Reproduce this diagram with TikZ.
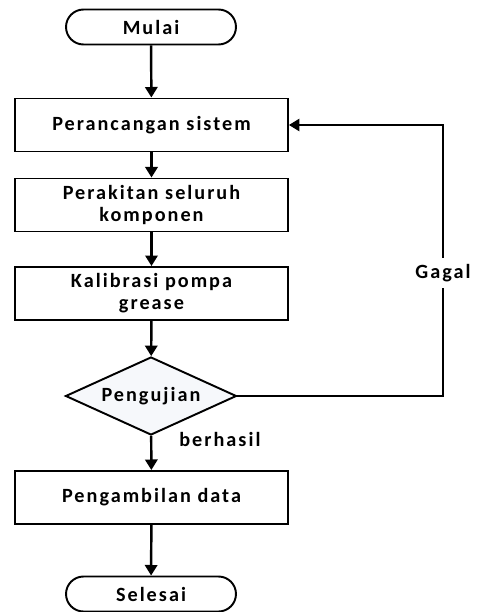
\documentclass[tikz,border=0pt]{standalone}
\usepackage{fontspec}
\setmainfont{Carlito}[LetterSpace=10]
\usetikzlibrary{arrows.meta,shapes.geometric}
\definecolor{isiuji}{HTML}{F6F8FB}

\tikzset{
  teks/.style={font=\bfseries\fontsize{11.5}{12.5}\selectfont, align=center},
  proses/.style={teks, draw, line width=1.1pt, minimum width=5.46cm, minimum height=1.06cm},
  terminal/.style={teks, draw, line width=1.1pt, rounded corners=0.35cm, minimum width=3.4cm, minimum height=0.7cm},
  keputusan/.style={teks, draw, diamond, fill=isiuji, line width=1.1pt, aspect=2.2, minimum width=3.42cm, minimum height=1.56cm, inner sep=0pt},
  panah/.style={line width=1.4pt, -{Triangle[width=7pt,length=6pt]}}
}

\begin{document}
\begin{tikzpicture}[x=0.02cm,y=-0.02cm]
\useasboundingbox (0,0) rectangle (478,612);

\node[terminal] (mulai) at (151,27) {Mulai};
\node[proses] (rancang) at (151.5,125) {Perancangan sistem};
\node[proses] (rakit) at (151.5,205) {Perakitan seluruh\\komponen};
\node[proses] (kalibrasi) at (151.5,293.5) {Kalibrasi pompa\\grease};
\node[keputusan] (uji) at (151,396) {Pengujian};
\node[proses] (ambil) at (151.5,497.5) {Pengambilan data};
\node[terminal] (selesai) at (151,594) {Selesai};
\coordinate (belok) at (443,125);

\draw[panah] (mulai) -- (rancang);
\draw[panah] (rancang) -- (rakit);
\draw[panah] (rakit) -- (kalibrasi);
\draw[panah] (kalibrasi) -- (uji);
\draw[panah] (uji) -- node[teks, right=12pt, pos=0.1] (hasil) {berhasil} (ambil);
\draw[panah] (ambil) -- (selesai);

% jalur gagal kembali ke perancangan
\draw[panah, line width=1.2pt] (uji.east) -| node[teks, fill=white, inner xsep=1pt, pos=0.727] (gagal) {Gagal} (belok) -- (rancang.east);

\end{tikzpicture}
\end{document}
